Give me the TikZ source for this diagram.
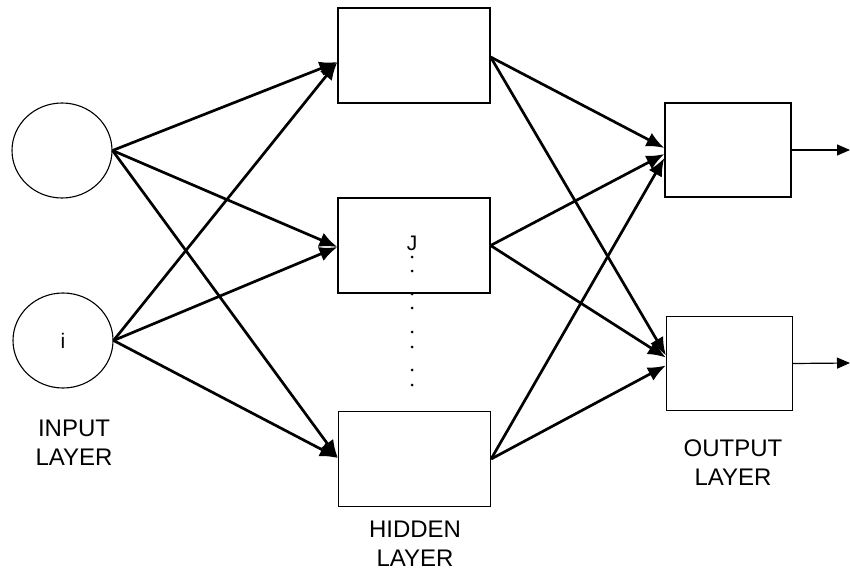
\documentclass[tikz,border=0pt]{standalone}
\usepackage{fontspec}
\setmainfont{Liberation Sans}
\usetikzlibrary{shapes.geometric,arrows.meta}
\begin{document}
\begin{tikzpicture}[x=1pt,y=-1pt,
  inputnode/.style={draw,line width=1.1pt,ellipse,minimum width=100pt,minimum height=95pt,inner sep=0pt,font=\fontsize{21}{24}\selectfont},
  hiddenbox/.style={draw,line width=1.2pt,rectangle,minimum width=152pt,minimum height=95pt,inner sep=0pt},
  outbox/.style={draw,line width=1.2pt,rectangle,minimum width=126pt,minimum height=94pt,inner sep=0pt},
  conn/.style={line width=2.7pt,-{Latex[length=18pt,width=15pt]}},
  outconn/.style={line width=1.2pt,-{Triangle[length=13pt,width=11pt]}},
  lbl/.style={font=\fontsize{24}{29}\selectfont,align=center,inner sep=0pt},
  dotmark/.style={fill,circle,inner sep=0pt,minimum size=3pt}]
\useasboundingbox (0,0) rectangle (850,572);
% input layer
\node[inputnode] (c1) at (62,150.5) {};
\node[inputnode] (c2) at (63,340.5) {i};
% hidden layer
\node[hiddenbox] (h1) at (414,55.5) {};
\node[hiddenbox] (h2) at (414,245.5) {};
\node[hiddenbox] (h3) at (414.5,459) {};
\node[font=\fontsize{21}{24}\selectfont,inner sep=0pt] (jlab) at (412,243) {J};
% output layer
\node[outbox] (o1) at (728,150) {};
\node[outbox] (o2) at (729.5,363.5) {};
% dots
\foreach \yy [count=\k] in {257,271,294,308,332,347,370,385}
  \node[dotmark] (d\k) at (412,\yy) {};
% input -> hidden
\draw[conn] (c1.east) -- ([yshift=-6.5pt]h1.west);
\draw[conn] (c1.east) -- ([yshift=-1.5pt]h2.west);
\draw[conn] (c1.east) -- ([yshift=1pt]h3.west);
\draw[conn] (c2.east) -- ([yshift=-6.5pt]h1.west);
\draw[conn] (c2.east) -- ([yshift=-1.5pt]h2.west);
\draw[conn] (c2.east) -- ([yshift=1pt]h3.west);
% hidden -> output
\draw[conn] ([yshift=-1.5pt]h1.east) -- ([yshift=2pt]o1.west);
\draw[conn] ([yshift=-1.5pt]h1.east) -- ([yshift=8pt]o2.west);
\draw[conn] (h2.east) -- ([yshift=-4pt]o1.west);
\draw[conn] (h2.east) -- ([yshift=6pt]o2.west);
\draw[conn] (h3.east) -- ([yshift=-8pt]o1.west);
\draw[conn] (h3.east) -- ([yshift=-2pt]o2.west);
% outputs
\coordinate (e1) at (850,150);
\coordinate (e2) at (850,363);
\draw[outconn] (o1.east) -- (e1);
\draw[outconn] (o2.east) -- (e2);
% labels
\node[lbl] (inl) at (74,443) {INPUT\\LAYER};
\node[lbl] (hidl) at (415,543.5) {HIDDEN\\LAYER};
\node[lbl] (outl) at (733,463) {OUTPUT\\LAYER};
\end{tikzpicture}
\end{document}
